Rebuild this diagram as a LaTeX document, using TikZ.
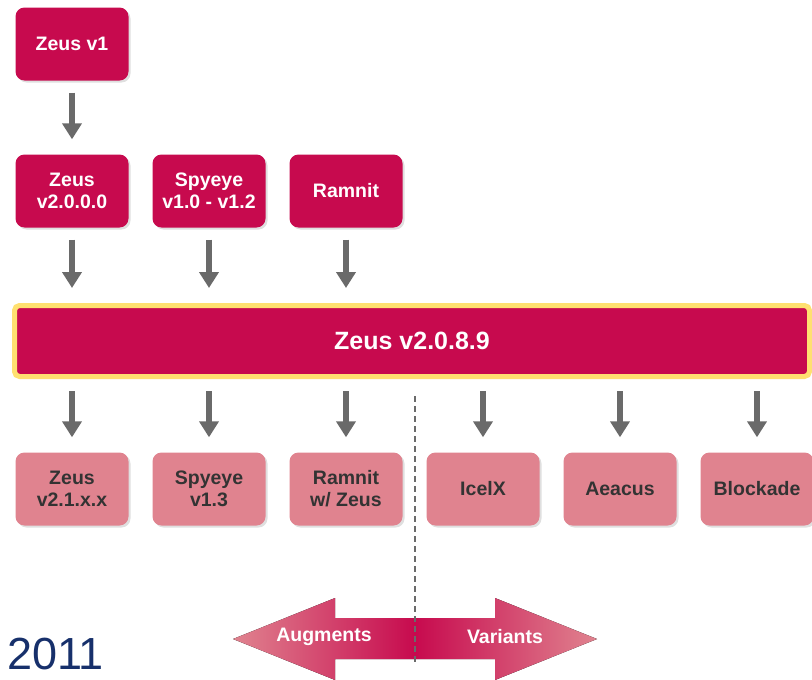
\documentclass[tikz,border=0pt]{standalone}
\usepackage{fontspec}
\setmainfont{Liberation Sans}
\usepackage{xcolor}
\usepackage{tikz}
\usetikzlibrary{positioning, arrows.meta, shadows}
\definecolor{zeusred}{HTML}{C70A4E}
\definecolor{zeuspink}{HTML}{E0838F}
\definecolor{arrowgray}{HTML}{6A6A6A}
\definecolor{barglow}{HTML}{FFE070}
\definecolor{yearblue}{HTML}{17306B}
\definecolor{labelgray}{HTML}{333333}

\tikzset{
  redbox/.style={fill=zeusred, rounded corners=9pt, minimum width=113pt, minimum height=73pt,
    align=center, text=white, font=\bfseries\fontsize{19.5}{22}\selectfont,
    drop shadow={opacity=0.25, shadow xshift=2pt, shadow yshift=-2pt}},
  pinkbox/.style={fill=zeuspink, rounded corners=9pt, minimum width=113pt, minimum height=73pt,
    align=center, text=labelgray, font=\bfseries\fontsize{19.5}{22}\selectfont,
    drop shadow={opacity=0.25, shadow xshift=2pt, shadow yshift=-2pt}},
  flowarrow/.style={draw=arrowgray, line width=5.5pt, -{Triangle[width=19pt, length=16pt]},
    shorten <=12pt, shorten >=15pt},
}

\begin{document}
\begin{tikzpicture}[x=1pt, y=-1pt]
  \useasboundingbox (0,0) rectangle (812,680);

  % sources
  \node[redbox] (v1) at (72,44) {Zeus v1};
  \node[redbox] (z2) at (72,191) {Zeus\\v2.0.0.0};
  \node[redbox] (spy) at (209,191) {Spyeye\\v1.0 - v1.2};
  \node[redbox] (ram) at (346,191) {Ramnit};

  % merged build
  \node[fill=zeusred, draw=barglow, line width=5pt, rounded corners=5pt,
        minimum width=795pt, minimum height=71pt, text=white,
        font=\bfseries\fontsize{25}{27}\selectfont] (bar) at (412,341) {Zeus v2.0.8.9};

  % descendants
  \node[pinkbox] (z21) at (72,489) {Zeus\\v2.1.x.x};
  \node[pinkbox] (spy13) at (209,489) {Spyeye\\v1.3};
  \node[pinkbox] (ramz) at (346,489) {Ramnit\\w/ Zeus};
  \node[pinkbox] (icx) at (483,489) {IcelX};
  \node[pinkbox] (aea) at (620,489) {Aeacus};
  \node[pinkbox] (blk) at (757,489) {Blockade};

  \draw[flowarrow] (v1) -- (z2);
  \draw[flowarrow] (z2) -- (z2 |- bar.north);
  \draw[flowarrow] (spy) -- (spy |- bar.north);
  \draw[flowarrow] (ram) -- (ram |- bar.north);
  \foreach \k in {z21, spy13, ramz, icx, aea, blk}
    \draw[flowarrow] (\k |- bar.south) -- (\k);

  % augments / variants
  \fill[left color=zeuspink, right color=zeusred]
    (415,618) -- (335,618) -- (335,598) -- (233,639) -- (335,680) -- (335,659) -- (415,659) -- cycle;
  \fill[left color=zeusred, right color=zeuspink]
    (415,618) -- (495,618) -- (495,598) -- (597,639) -- (495,680) -- (495,659) -- (415,659) -- cycle;
  \node[text=white, font=\bfseries\fontsize{19.5}{22}\selectfont] (aug) at (324,637) {Augments};
  \node[text=white, font=\bfseries\fontsize{19.5}{22}\selectfont] (var) at (505,637) {Variants};

  \coordinate (cuttop) at (415,396);
  \coordinate (cutbot) at (415,662);
  \draw[arrowgray, line width=1.2pt, dash pattern=on 6pt off 4pt] (cuttop) -- (cutbot);

  \node[anchor=base west, inner sep=0pt, text=yearblue, font=\fontsize{45}{47}\selectfont]
    (year) at (7,669) {2011};
\end{tikzpicture}
\end{document}
